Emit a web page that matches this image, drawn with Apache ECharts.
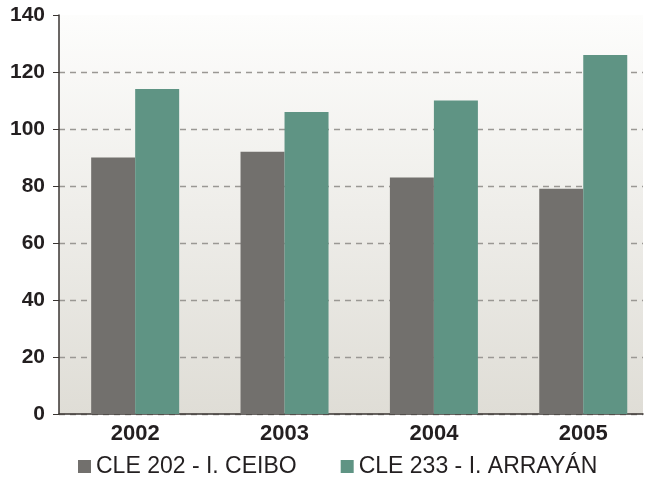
<!DOCTYPE html>
<html>
<head>
<meta charset="utf-8">
<script src="https://cdn.jsdelivr.net/npm/echarts@6/dist/echarts.min.js"></script>
<style>
html,body{margin:0;padding:0;background:#fff;}
#chart{width:650px;height:484px;}
</style>
</head>
<body>
<div id="chart"></div>
<script>
var categories = ['2002', '2003', '2004', '2005'];
var seriesNames = ['CLE 202 - I. CEIBO', 'CLE 233 - I. ARRAYÁN'];
var ceibo = [90, 92, 83, 79];
var arrayan = [114, 106, 110, 126];
var yMin = 0, yMax = 140, yStep = 20;

var font = 'Liberation Sans, Arial, sans-serif';
var idx = categories.map(function (c, i) { return i; });
function pairs(vals) { return vals.map(function (v, i) { return [i, v]; }); }

var chart = echarts.init(document.getElementById('chart'));
chart.setOption({
  animation: false,
  textStyle: { fontFamily: font },
  grid: {
    left: 59, right: 7, top: 15, bottom: 70,
    show: true, borderWidth: 0,
    backgroundColor: new echarts.graphic.LinearGradient(0, 0, 0, 1, [
      { offset: 0, color: '#fdfdfc' },
      { offset: 1, color: '#dfddd6' }
    ])
  },
  legend: {
    left: 73, top: 450,
    itemWidth: 13, itemHeight: 13, itemGap: 44,
    icon: 'rect',
    textStyle: { fontSize: 23, color: '#231f20', fontFamily: font },
    data: seriesNames
  },
  xAxis: {
    type: 'value',
    min: -0.51, max: 3.4,
    axisLine: { show: true, onZero: false, lineStyle: { color: '#3a3532', width: 1.5 } },
    axisTick: { show: false },
    splitLine: { show: false },
    axisLabel: {
      customValues: idx,
      fontSize: 22, fontWeight: 'bold', color: '#231f20', margin: 9,
      formatter: function (v) { return categories[Math.round(v)]; }
    }
  },
  yAxis: {
    type: 'value',
    min: yMin, max: yMax, interval: yStep,
    axisLine: { show: true, onZero: false, lineStyle: { color: '#3a3532', width: 1.5 } },
    axisTick: { show: true, length: 6, lineStyle: { color: '#3a3532' } },
    axisLabel: { fontSize: 21, fontWeight: 'bold', color: '#231f20', margin: 14 },
    splitLine: { show: true, showMaxLine: false, lineStyle: { color: '#9a9894', type: [6, 5], width: 1.3 } }
  },
  series: [
    { name: seriesNames[0], type: 'bar', data: pairs(ceibo), barWidth: 44, barGap: '0%', itemStyle: { color: '#72706d' } },
    { name: seriesNames[1], type: 'bar', data: pairs(arrayan), barWidth: 44, barGap: '0%', itemStyle: { color: '#5f9484' } }
  ]
});
</script>
</body>
</html>
